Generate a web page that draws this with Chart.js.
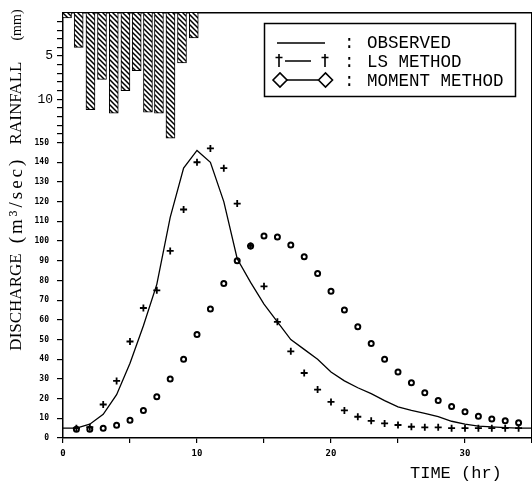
<!DOCTYPE html>
<html>
<head>
<meta charset="utf-8">
<script src="https://cdn.jsdelivr.net/npm/chart.js@4.4.0/dist/chart.umd.min.js"></script>
<style>
  html, body { margin: 0; padding: 0; background: #fff; }
  canvas { display: block; }
</style>
</head>
<body>
<canvas id="myChart" width="532" height="486"></canvas>
<script>
// time axis (hr) for the discharge series
var hours = [0, 1, 2, 3, 4, 5, 6, 7, 8, 9, 10, 11, 12, 13, 14, 15, 16, 17, 18, 19, 20,
    21, 22, 23, 24, 25, 26, 27, 28, 29, 30, 31, 32, 33, 34, 35];

// discharge (m3/sec)
var observed = [5, 5, 7, 12, 22, 38, 57, 78, 112, 137, 146, 140, 120, 91, 79, 68, 59, 50, 45, 40,
    33.5, 29, 25.5, 22.5, 19, 15.8, 14, 12.5, 10.8, 8.5, 7, 6, 5.6, 5.3, 5, 5];
var lsMethod = [null, 5, 5.5, 17, 29, 49, 66, 75, 95, 116, 140, 147, 137, 119, 97.5, 77, 59, 44, 33,
    24.6, 18.3, 14, 10.8, 8.7, 7.4, 6.6, 5.7, 5.4, 5.4, 5, 5, 5, 5, 5, 5];
var momentMethod = [null, 4.5, 4.5, 5, 6.5, 9, 14, 21, 30, 40, 52.5, 65.5, 78.5, 90, 97.5, 102.5, 102,
    98, 92, 83.5, 74.5, 65, 56.5, 48, 40, 33.5, 28, 23, 19, 16, 13.3, 11, 9.6, 8.7, 7.7];

// rainfall hyetograph (mm), bar centres in hr
var rainTimes = [0.3, 1.17, 2.05, 2.91, 3.79, 4.66, 5.5, 6.34, 7.16, 8.02, 8.88, 9.76];
var rainDepth = [0.6, 4.0, 11.2, 7.7, 11.6, 9.0, 6.7, 11.5, 11.6, 14.5, 5.8, 2.9];

// tick labels
var timeLabels = [0, 10, 20, 30];
var rainLabels = [5, 10];

function pairs(values) {
    var out = [];
    for (i = 0; i < values.length; i++) {
        if (values[i] != null) out.push({ x: hours[i], y: values[i] });
    }
    return out;
}

// diagonal hatch used for the rainfall bars
function hatch() {
    const c = document.createElement("canvas");
    c.width = 5;
    c.height = 5;
    const g = c.getContext("2d");
    g.fillStyle = "#fff";
    g.fillRect(0, 0, 5, 5);
    g.strokeStyle = "#000";
    g.lineWidth = 1.5;
    g.beginPath();
    g.moveTo(0, 0); g.lineTo(5, 5);
    g.moveTo(-1, 4); g.lineTo(1, 6);
    g.moveTo(4, -1); g.lineTo(6, 1);
    g.stroke();
    return g.createPattern(c, "repeat");
}

// axis titles and the boxed legend
const paperText = {
    id: "paperText",
    afterDraw(chart) {
        const ctx = chart.ctx;
        ctx.save();
        ctx.fillStyle = "#000";
        ctx.strokeStyle = "#000";

        // vertical titles
        ctx.textAlign = "center";
        ctx.textBaseline = "middle";
        ctx.save();
        ctx.translate(17, 0);
        ctx.rotate(-Math.PI / 2);
        ctx.font = "17px 'Liberation Serif'";
        ctx.fillText("DISCHARGE", -302, 0);
        ctx.fillText("RAINFALL", -103, 0);
        ctx.font = "19px 'Liberation Serif'";
        ctx.letterSpacing = "3px";
        ctx.fillText("(m\u00b3/sec)", -200, 0);
        ctx.letterSpacing = "0px";
        ctx.font = "14px 'Liberation Serif'";
        ctx.fillText("(mm)", -25, 0);
        ctx.restore();

        // time title
        ctx.textAlign = "left";
        ctx.textBaseline = "alphabetic";
        ctx.font = "17px 'Liberation Mono'";
        ctx.fillText("TIME (hr)", 410, 478);

        // legend box
        ctx.lineWidth = 1.5;
        ctx.strokeRect(264.5, 23.5, 251, 73);
        ctx.font = "17.5px 'Liberation Mono'";
        ctx.fillText(":", 344, 48);
        ctx.fillText(":", 344, 66.5);
        ctx.fillText(":", 344, 86);
        ctx.fillText("OBSERVED", 367, 48);
        ctx.fillText("LS METHOD", 367, 66.5);
        ctx.fillText("MOMENT METHOD", 367, 86);

        ctx.beginPath();
        ctx.lineWidth = 1.3;
        ctx.moveTo(277, 43); ctx.lineTo(325, 43);
        ctx.moveTo(285, 61); ctx.lineTo(311, 61);
        ctx.moveTo(287, 80); ctx.lineTo(318, 80);
        ctx.stroke();
        ctx.beginPath();
        ctx.lineWidth = 1.6;
        [279, 325].forEach(function (x) {
            ctx.moveTo(x, 54); ctx.lineTo(x, 67);
            ctx.moveTo(x - 3.5, 57.5); ctx.lineTo(x + 3.5, 57.5);
        });
        [280, 325.5].forEach(function (x) {
            ctx.moveTo(x - 7, 80); ctx.lineTo(x, 73); ctx.lineTo(x + 7, 80);
            ctx.lineTo(x, 87); ctx.closePath();
        });
        ctx.stroke();
        ctx.restore();
    }
};

const data = {
    datasets: [
        {
            type: "bar",
            label: "RAINFALL",
            data: rainTimes.map(function (t, i) { return { x: t, y: rainDepth[i] }; }),
            xAxisID: "x",
            yAxisID: "yRain",
            backgroundColor: hatch(),
            borderColor: "#000",
            borderWidth: 1,
            barThickness: 9,
        },
        {
            type: "line",
            label: "OBSERVED",
            data: pairs(observed),
            yAxisID: "y",
            borderColor: "#000",
            borderWidth: 1.3,
            pointRadius: 0,
            tension: 0,
            fill: false,
        },
        {
            type: "line",
            label: "LS METHOD",
            data: pairs(lsMethod),
            yAxisID: "y",
            showLine: false,
            pointStyle: "cross",
            pointRadius: 3.5,
            borderColor: "#000",
            borderWidth: 1.8,
        },
        {
            type: "line",
            label: "MOMENT METHOD",
            data: pairs(momentMethod),
            yAxisID: "y",
            showLine: false,
            pointStyle: "circle",
            pointRadius: 2.5,
            borderColor: "#000",
            backgroundColor: "#fff",
            borderWidth: 2,
        },
    ],
};

const tickFont = { family: "DejaVu Sans Mono", size: 8, weight: "bold" };

const config = {
    type: "line",
    data,
    options: {
        responsive: false,
        animation: false,
        layout: { autoPadding: false, padding: { top: 12, left: 0, right: 0, bottom: 0 } },
        plugins: { legend: { display: false }, tooltip: { enabled: false } },
        scales: {
            x: {
                type: "linear",
                position: "bottom",
                offset: false,
                min: 0,
                max: 35,
                ticks: {
                    stepSize: 5,
                    autoSkip: false,
                    maxRotation: 0,
                    padding: 0,
                    color: "#000",
                    font: { family: "DejaVu Sans Mono", size: 9, weight: "bold", lineHeight: 2.4 },
                    callback: function (v) { return timeLabels.indexOf(v) >= 0 ? v : ""; },
                },
                grid: { offset: false, drawOnChartArea: false, tickLength: 5, color: "#000", lineWidth: 1.2 },
                border: { color: "#000", width: 1.5 },
                afterFit: function (s) { s.height = 48; },
            },
            xTop: {
                type: "linear",
                position: "top",
                min: 0,
                max: 35,
                ticks: { display: false },
                grid: { display: false },
                border: { display: true, color: "#000", width: 1.5 },
                afterFit: function (s) { s.height = 0; },
            },
            // rainfall hangs from the top, discharge below it, on one stacked left axis
            yRain: {
                type: "linear",
                position: "left",
                stack: "left",
                stackWeight: 130,
                weight: 2,
                reverse: true,
                min: 0,
                max: 15,
                afterBuildTicks: function (a) {
                    a.ticks = a.ticks.filter(function (t) { return t.value >= 1 && t.value <= 14; });
                },
                ticks: {
                    stepSize: 1,
                    autoSkip: false,
                    padding: 4,
                    color: "#000",
                    font: { family: "Liberation Mono", size: 13 },
                    callback: function (v) { return rainLabels.indexOf(v) >= 0 ? v : ""; },
                },
                grid: { drawOnChartArea: false, tickLength: 6, color: "#000", lineWidth: 1.2 },
                border: { color: "#000", width: 1.5 },
                afterFit: function (s) { s.width = 63; },
            },
            y: {
                type: "linear",
                position: "left",
                stack: "left",
                stackWeight: 296,
                weight: 1,
                min: 0,
                max: 150,
                ticks: { stepSize: 10, autoSkip: false, padding: 8, color: "#000", font: tickFont },
                grid: { drawOnChartArea: false, tickLength: 6, color: "#000", lineWidth: 1.2 },
                border: { color: "#000", width: 1.5 },
                afterFit: function (s) { s.width = 63; },
            },
            yRight: {
                type: "linear",
                position: "right",
                ticks: { display: false },
                grid: { display: false },
                border: { display: true, color: "#000", width: 1.5 },
                afterFit: function (s) { s.width = 0; },
            },
        },
    },
    plugins: [paperText],
};

myChart = new Chart(document.getElementById("myChart"), config);
</script>
</body>
</html>
